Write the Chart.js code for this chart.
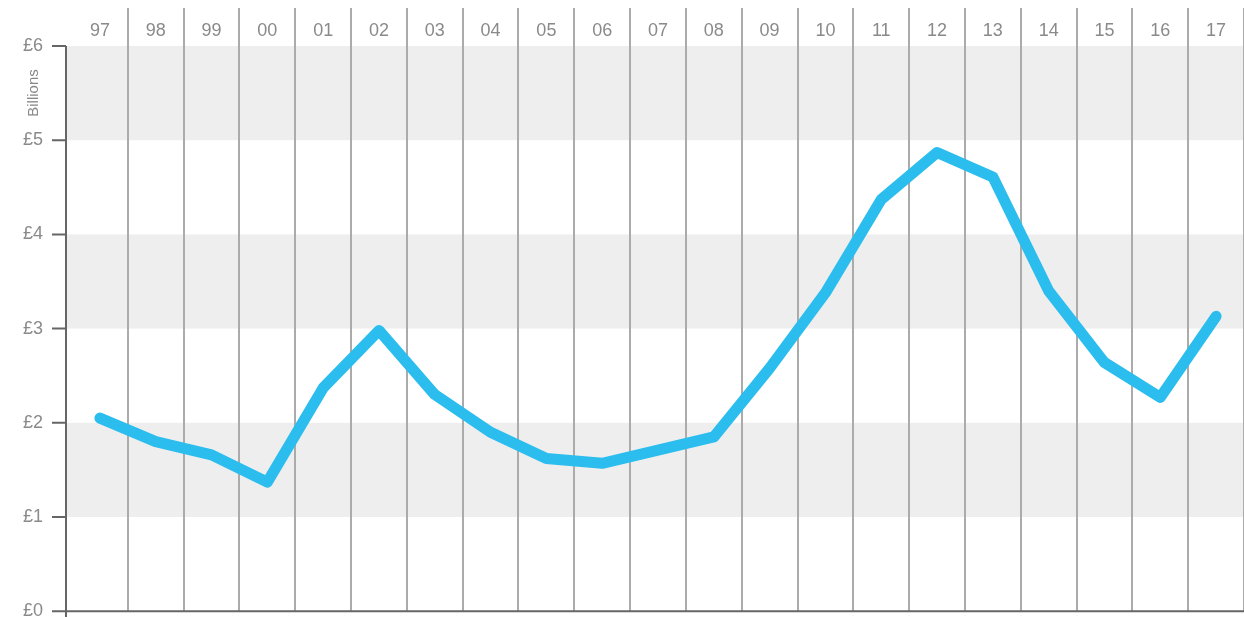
<!DOCTYPE html>
<html>
<head>
<meta charset="utf-8">
<script src="https://cdn.jsdelivr.net/npm/chart.js@4"></script>
<style>
  html, body { margin: 0; padding: 0; background: #fff; overflow: hidden; }
  #wrap { width: 1244px; height: 651px; position: relative; }
</style>
</head>
<body>
<div id="wrap"><canvas id="spendChart"></canvas></div>
<script>
const years = ['97', '98', '99', '00', '01', '02', '03', '04', '05', '06', '07',
               '08', '09', '10', '11', '12', '13', '14', '15', '16', '17'];
const billions = [2.05, 1.80, 1.66, 1.37, 2.37, 2.98, 2.30, 1.90, 1.62, 1.57, 1.71,
                  1.85, 2.58, 3.38, 4.37, 4.87, 4.61, 3.40, 2.64, 2.27, 3.13];
const bands = [[1, 2], [3, 4], [5, 6]];
const yTicks = [0, 1, 2, 3, 4, 5, 6];

const FONT = '"Liberation Sans", Arial, sans-serif';
const AXIS_X = 66; // y axis line sits a little left of the first category

const bandPlugin = {
    id: 'bands',
    beforeDraw(chart) {
        const { ctx, chartArea, scales } = chart;
        ctx.save();
        ctx.fillStyle = '#eeeeee';
        bands.forEach(([lo, hi]) => {
            const top = scales.y.getPixelForValue(hi);
            const bottom = scales.y.getPixelForValue(lo);
            ctx.fillRect(AXIS_X, top, chartArea.right - AXIS_X, bottom - top);
        });
        ctx.restore();
    },
    afterDraw(chart) {
        const { ctx, chartArea, scales } = chart;
        const y0 = scales.y.getPixelForValue(0);
        ctx.save();
        ctx.strokeStyle = '#666';
        ctx.lineWidth = 2;
        ctx.beginPath();
        // y axis line
        ctx.moveTo(AXIS_X, chartArea.top);
        ctx.lineTo(AXIS_X, y0 + 6);
        // baseline
        ctx.moveTo(AXIS_X, y0);
        ctx.lineTo(chartArea.right, y0);
        // tick marks
        yTicks.forEach(v => {
            const py = scales.y.getPixelForValue(v);
            ctx.moveTo(AXIS_X - 14, py);
            ctx.lineTo(AXIS_X, py);
        });
        ctx.stroke();

        ctx.translate(34, 93);
        ctx.rotate(-Math.PI / 2);
        ctx.font = '15px ' + FONT;
        ctx.fillStyle = '#888';
        ctx.textAlign = 'center';
        ctx.textBaseline = 'middle';
        ctx.fillText('Billions', 0, 0);
        ctx.restore();
    }
};

new Chart(document.getElementById('spendChart'), {
    type: 'line',
    data: {
        labels: years,
        datasets: [{
            data: billions,
            borderColor: '#2bbdee',
            borderWidth: 11,
            pointRadius: 0,
            borderCapStyle: 'round',
            borderJoinStyle: 'round',
            tension: 0,
            fill: false
        }]
    },
    options: {
        responsive: true,
        maintainAspectRatio: false,
        animation: false,
        layout: { padding: 0 },
        plugins: {
            legend: { display: false },
            tooltip: { enabled: false }
        },
        scales: {
            x: {
                position: 'top',
                offset: true,
                afterFit: s => { s.height = 46; },
                border: { display: false },
                grid: {
                    offset: true,
                    drawOnChartArea: true,
                    tickLength: 38,
                    lineWidth: 2,
                    color: c => (c.index === 0 || c.index === years.length) ? 'rgba(0,0,0,0)' : '#ababab'
                },
                ticks: {
                    color: '#8a8a8a',
                    padding: -34,
                    autoSkip: false,
                    maxRotation: 0,
                    font: { family: FONT, size: 18 }
                }
            },
            y: {
                min: 0,
                max: 6,
                afterFit: s => { s.width = 72; },
                afterBuildTicks: s => { s.ticks = yTicks.map(v => ({ value: v })); },
                border: { display: false },
                grid: { display: true, drawOnChartArea: false, drawTicks: false },
                ticks: {
                    color: '#8a8a8a',
                    padding: 29,
                    font: { family: FONT, size: 18 },
                    callback: v => '£' + v
                }
            }
        }
    },
    plugins: [bandPlugin]
});
</script>
</body>
</html>
